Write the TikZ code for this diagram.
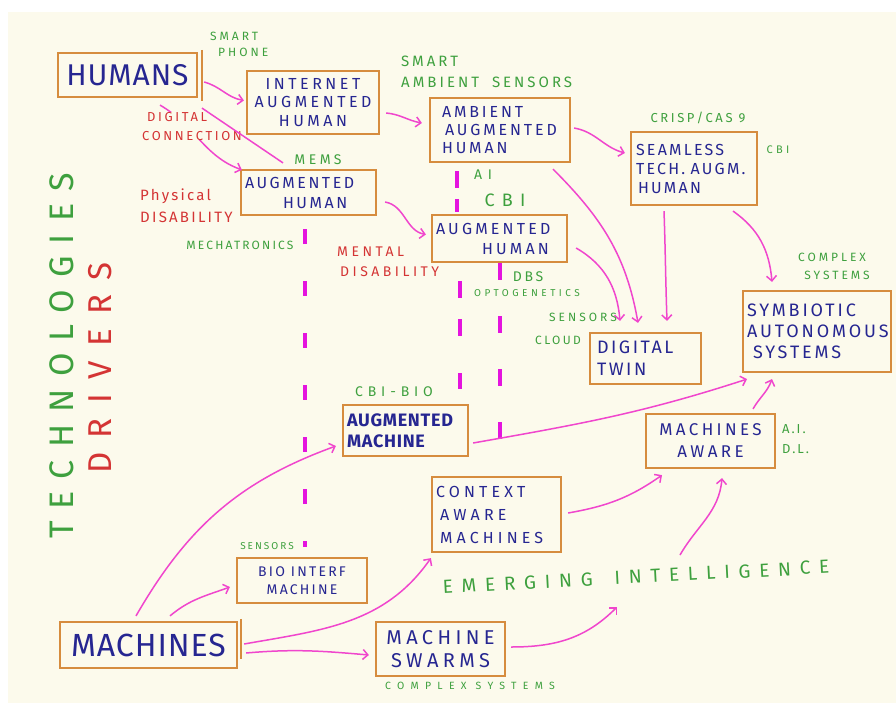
\documentclass[tikz,border=0pt]{standalone}
\usepackage{fontspec}
\usetikzlibrary{arrows.meta}
\newfontfamily\hand{Fira Sans}[LetterSpace=15]
\newcommand{\hwsize}[2]{\fontsize{#1}{#2}\selectfont}
\definecolor{paper}{RGB}{252,250,236}
\definecolor{boxline}{RGB}{214,140,62}
\definecolor{ink}{RGB}{38,38,145}
\definecolor{leaf}{RGB}{62,160,62}
\definecolor{rust}{RGB}{212,52,52}
\definecolor{pinkline}{RGB}{240,70,205}
\definecolor{dashpink}{RGB}{228,20,222}
\tikzset{
  box/.style={draw=boxline, line width=2.2pt, text=ink, inner xsep=4pt, inner ysep=2pt},
  hw/.style n args={3}{font=\hand\addfontfeatures{LetterSpace=#3}\hwsize{#1}{#2}},
  hwbold/.style n args={3}{font=\hand\bfseries\addfontfeatures{LetterSpace=#3}\hwsize{#1}{#2}},
  lab/.style={inner sep=0pt, align=left},
  arr/.style={draw=pinkline, line width=1.5pt, -{Straight Barb[length=5pt,width=10pt]}},
  arrline/.style={draw=pinkline, line width=1.5pt},
  dashline/.style={draw=dashpink, line width=4.5pt}
}
\begin{document}
\hyphenpenalty=10000 \exhyphenpenalty=10000
\begin{tikzpicture}[x=1pt,y=-1pt]
% sheet
\fill[white] (0,0) rectangle (896,709);
\fill[paper] (8,12) rectangle (896,703);
\useasboundingbox (0,0) rectangle (896,709);

% ---- boxes ----
\node[box, minimum width=139pt, minimum height=44pt, hw={30}{34}{3}] (humans) at (127.5,75) {HUMANS};
\node[box, minimum width=132pt, minimum height=63pt, hw={16}{18.5}{22}, align=center] (inet) at (313,102.5) {INTERNET\\AUGMENTED\\HUMAN};
\node[box, minimum width=140pt, minimum height=64pt, hw={16}{18}{18}, text width=128pt, align=left] (ambient) at (500,130) {\hspace{6pt}AMBIENT\\\hspace{9pt}AUGMENTED\\\hspace{6pt}HUMAN};
\node[box, minimum width=126pt, minimum height=73pt, hw={16}{19}{14}, text width=116pt, align=left] (seamless) at (694,168.5) {SEAMLESS\\TECH. AUGM.\\\hspace{2pt}HUMAN};
\node[box, minimum width=131pt, minimum height=45pt, hw={16}{20}{16}, text width=127pt, align=left] (aughL) at (308.5,192.5) {AUGMENTED\\\hspace{38pt}HUMAN};
\node[box, minimum width=131pt, minimum height=47pt, hw={16}{20}{20}, text width=127pt, align=left] (aughM) at (499.5,238.5) {AUGMENTED\\\hspace{46pt}HUMAN};
\node[box, minimum width=111pt, minimum height=51pt, hw={18}{22}{14}, text width=97pt, align=left] (twin) at (645.5,358.5) {DIGITAL\\TWIN};
\node[box, minimum width=148pt, minimum height=81pt, hw={18}{21}{16}, text width=140pt, align=left] (symb) at (817,331.5) {SYMBIOTIC\\AUTONOMOUS\\\hspace{6pt}SYSTEMS};
\node[box, minimum width=125pt, minimum height=51pt, hwbold={18}{21}{4}, text width=117pt, align=left] (augm) at (405.5,430.5) {AUGMENTED\\MACHINE};
\node[box, minimum width=129pt, minimum height=54pt, hw={17}{22}{20}, align=center] (maware) at (710.5,441) {MACHINES\\AWARE};
\node[box, minimum width=129pt, minimum height=75pt, hw={16}{23}{26}, text width=121pt, align=left] (context) at (496.5,514.5) {CONTEXT\\\hspace{4pt}AWARE\\\hspace{4pt}MACHINES};
\node[box, minimum width=130pt, minimum height=45pt, hw={14}{18}{16}, align=center] (bio) at (302,580.5) {BIO INTERF\\MACHINE};
\node[box, minimum width=177pt, minimum height=46pt, hw={32}{36}{3}] (machines) at (148.5,645) {MACHINES};
\node[box, minimum width=129pt, minimum height=54pt, hw={20}{23}{22}, align=center] (swarms) at (440.5,649) {MACHINE\\SWARMS};

% doubled right edges
\draw[boxline, line width=1.8pt] ([shift={(4,-2)}]humans.north east) -- ([shift={(4,3)}]humans.south east);
\draw[boxline, line width=1.8pt] ([shift={(3,-2)}]machines.north east) -- ([shift={(3,-10)}]machines.south east);

% ---- free points ----
\coordinate (emergIn) at (617,607);
\coordinate (emergOut) at (680,555);
\coordinate (dashEnd) at (460,389);

% ---- dashed links ----
\draw[dashline, dash pattern=on 15pt off 37pt] ([shift={(-3.5,13)}]aughL.south) -- ([shift={(3,-10)}]bio.north);
\draw[dashline, dash pattern=on 17pt off 11pt] ([shift={(-43,8)}]ambient.south) -- ([shift={(-42.5,-2)}]aughM.north);
\draw[dashline, dash pattern=on 17pt off 21pt on 17pt off 37pt] ([shift={(-39.5,18)}]aughM.south) -- (dashEnd);
\draw[dashline, dash pattern=on 17pt off 36pt] ([shift={(0.5,0)}]aughM.south) -- ([shift={(3.5,-3)}]context.north);

% ---- arrows ----
\draw[arr] ([shift={(32.5,7)}]humans.south) to[out=-30,in=160] ([shift={(2,1)}]aughL.north west);

% ---- labels ----
\node[lab, text=rust, hw={13}{19}{20}, fill=paper, anchor=north west] (digconn) at (142,112) {\hspace{5pt}DIGITAL\\CONNECTION};

\draw[arrline] ([shift={(74.5,10)}]humans.south) -- ([shift={(-25.5,-6)}]aughL.north);
\draw[arr] ([shift={(6,7)}]humans.east) to[out=-15,in=170] ([shift={(-2,-2)}]inet.west);
\draw[arr] ([shift={(6,10.5)}]inet.east) to[out=-5,in=170] ([shift={(-7,-7)}]ambient.west);
\draw[arr] ([shift={(3,-2)}]ambient.east) to[out=-10,in=165] ([shift={(-5,-15.5)}]seamless.west);
\draw[arr] ([shift={(53,6)}]ambient.south) to[out=-45,in=100] ([shift={(-7.5,-9)}]twin.north);
\draw[arr] ([shift={(8,9.5)}]aughL.east) to[out=-10,in=170] ([shift={(-5,-4)}]aughM.west);
\draw[arr] ([shift={(8,9.5)}]aughM.east) to[out=-30,in=95] ([shift={(-25.5,-11)}]twin.north);
\draw[arr] ([shift={(-30,5)}]seamless.south) to[out=-88,in=92] ([shift={(21.5,-11)}]twin.north);
\draw[arr] ([shift={(39,5)}]seamless.south) to[out=-35,in=95] ([shift={(-45,-8)}]symb.north);
\draw[arr] ([shift={(4,12.5)}]augm.east) to[out=10,in=198] ([shift={(-70,6)}]symb.south);
\draw[arr] ([shift={(42.5,-4)}]maware.north) to[out=60,in=-110] ([shift={(-45,6)}]symb.south);
\draw[arr] ([shift={(6,-1.5)}]context.east) to[out=10,in=215] ([shift={(-48.5,6)}]maware.south);
\draw[arr] ([shift={(5,-2)}]swarms.east) to[out=0,in=225] (emergIn);
\draw[arr] (emergOut) to[out=60,in=-95] ([shift={(11.5,9)}]maware.south);
\draw[arr] ([shift={(-12.5,-5)}]machines.north) to[out=60,in=200] ([shift={(-6,15.5)}]augm.west);
\draw[arr] ([shift={(21.5,-5)}]machines.north) to[out=40,in=200] ([shift={(-6,6.5)}]bio.west);
\draw[arr] ([shift={(6,-1)}]machines.east) to[out=10,in=235] ([shift={(0,5)}]context.south west);
\draw[arr] ([shift={(8,8)}]machines.east) to[out=5,in=175] ([shift={(-6,6)}]swarms.west);

% green technology notes
\node[lab, text=leaf, hw={12}{16}{25}, anchor=north west] (smartphone) at (210,32) {SMART\\\hspace{8pt}PHONE};
\node[lab, text=leaf, hw={15}{21}{20}, anchor=north west] (smartamb) at (401,56) {SMART\\AMBIENT\hspace{6pt} SENSORS};
\node[lab, text=leaf, hw={13}{16}{20}] (crisp) at (698,118) {CRISP/CAS 9};
\node[lab, text=leaf, hw={11}{14}{30}] (cbiA) at (778,150) {CBI};
\node[lab, text=leaf, hw={14}{16}{25}] (mems) at (318,160) {MEMS};
\node[lab, text=leaf, hw={14}{16}{40}] (ai) at (483,175) {AI};
\node[lab, text=leaf, hw={18}{20}{40}] (cbiB) at (505,200) {CBI};
\node[lab, text=leaf, hw={12}{14}{18}] (mecha) at (240,245) {MECHATRONICS};
\node[lab, text=leaf, hw={14}{16}{20}] (dbs) at (528,277) {DBS};
\node[lab, text=leaf, hw={10}{12}{35}] (opto) at (527,293) {OPTOGENETICS};
\node[lab, text=leaf, hw={12}{14}{25}] (sensA) at (583,317) {SENSORS};
\node[lab, text=leaf, hw={12}{14}{20}] (cloud) at (558,340) {CLOUD};
\node[lab, text=leaf, hw={12}{18}{25}, align=center] (complexA) at (832,266) {COMPLEX\\\hspace{10pt}SYSTEMS};
\node[lab, text=leaf, hw={14}{16}{35}] (cbibio) at (394,392) {CBI-BIO};
\node[lab, text=leaf, hw={13}{20}{15}, anchor=north west] (aidl) at (782,424) {A.I.\\D.L.};
\node[lab, text=leaf, hw={10}{12}{20}] (sensB) at (267,546) {SENSORS};
\node[lab, text=leaf, hw={19}{22}{46}, rotate=3] (emerg) at (636,577) {EMERGING\hspace{8pt} INTELLIGENCE};
\node[lab, text=leaf, hw={10.5}{12}{60}] (complexB) at (470,686) {COMPLEX SYSTEMS};
\node[lab, text=leaf, hw={34}{36}{36}, rotate=90] (techno) at (62,356) {TECHNOLOGIES};

% red driver notes
\node[lab, text=rust, hw={33}{36}{44}, rotate=90] (drivers) at (100,368) {DRIVERS};
\node[lab, text=rust, hw={15}{22}{15}, anchor=north west] (physical) at (140,189) {Physical\\DISABILITY};
\node[lab, text=rust, hw={14}{20}{25}, anchor=north west] (mental) at (337,247) {MENTAL\\\hspace{3pt}DISABILITY};
\end{tikzpicture}
\end{document}
